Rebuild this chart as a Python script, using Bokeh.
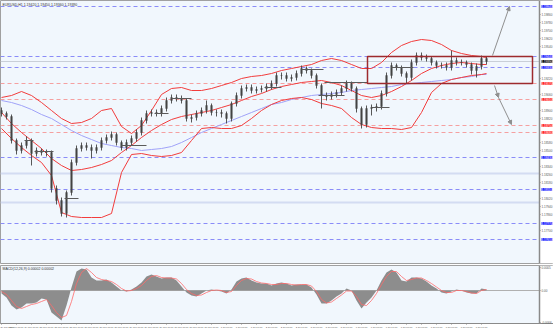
from bokeh.plotting import figure
from bokeh.models import (Range1d, FixedTicker, Label, Arrow, NormalHead, Span,
                          PrintfTickFormatter, ColumnDataSource, BoxAnnotation)
from bokeh.layouts import column
from bokeh.embed import file_html
from bokeh.resources import INLINE

# ---------------- data ----------------
title_text = "EURUSD,H1  1.19420 1.19450 1.19360 1.19390"
macd_title = "MACD(12,26,9) 0.00002 0.00002"

first_open = 1.1890
close = [1.1887, 1.1884, 1.1860, 1.1850, 1.1855, 1.1860, 1.1847, 1.1850, 1.1848, 1.1848,
         1.1812, 1.1800, 1.1787, 1.1808, 1.1838, 1.1852, 1.1855, 1.1853, 1.1850, 1.1853,
         1.1860, 1.1863, 1.1866, 1.1858, 1.1853, 1.1858, 1.1862, 1.1868, 1.1880, 1.1887,
         1.1888, 1.1887, 1.1892, 1.1900, 1.1903, 1.1902, 1.1900, 1.1882, 1.1883, 1.1887,
         1.1890, 1.1895, 1.1888, 1.1888, 1.1887, 1.1882, 1.1897, 1.1905, 1.1912, 1.1913,
         1.1910, 1.1911, 1.1912, 1.1914, 1.1917, 1.1925, 1.1925, 1.1922, 1.1923, 1.1927,
         1.1932, 1.1930, 1.1925, 1.1915, 1.1905, 1.1904, 1.1906, 1.1908, 1.1912, 1.1917,
         1.1912, 1.1892, 1.1876, 1.1892, 1.1893, 1.1894, 1.1907, 1.1925, 1.1935, 1.1933,
         1.1927, 1.1923, 1.1938, 1.1945, 1.1943, 1.1942, 1.1938, 1.1935, 1.1935, 1.1933,
         1.1940, 1.1938, 1.1938, 1.1936, 1.1930, 1.1934, 1.1942, 1.1939]
high = [1.1893, 1.1889, 1.1886, 1.1862, 1.1858, 1.1864, 1.1862, 1.1853, 1.1852, 1.1851,
        1.1850, 1.1815, 1.1803, 1.1810, 1.1841, 1.1855, 1.1858, 1.1858, 1.1856, 1.1856,
        1.1863, 1.1866, 1.1869, 1.1868, 1.1860, 1.1861, 1.1865, 1.1871, 1.1883, 1.1890,
        1.1891, 1.1891, 1.1895, 1.1903, 1.1906, 1.1906, 1.1905, 1.1902, 1.1886, 1.1890,
        1.1893, 1.1900, 1.1897, 1.1891, 1.1891, 1.1889, 1.1899, 1.1908, 1.1915, 1.1916,
        1.1916, 1.1914, 1.1915, 1.1917, 1.1920, 1.1928, 1.1928, 1.1928, 1.1926, 1.1930,
        1.1935, 1.1934, 1.1932, 1.1927, 1.1917, 1.1908, 1.1909, 1.1911, 1.1915, 1.1920,
        1.1919, 1.1914, 1.1894, 1.1895, 1.1896, 1.1897, 1.1910, 1.1928, 1.1938, 1.1937,
        1.1935, 1.1929, 1.1941, 1.1948, 1.1948, 1.1946, 1.1944, 1.1940, 1.1938, 1.1938,
        1.1950, 1.1943, 1.1941, 1.1940, 1.1938, 1.1937, 1.1945, 1.1944]
low = [1.1884, 1.1881, 1.1857, 1.1846, 1.1847, 1.1852, 1.1835, 1.1844, 1.1845, 1.1844,
       1.1808, 1.1796, 1.1784, 1.1783, 1.1805, 1.1835, 1.1849, 1.1850, 1.1842, 1.1847,
       1.1850, 1.1857, 1.1860, 1.1855, 1.1850, 1.1850, 1.1855, 1.1859, 1.1865, 1.1877,
       1.1884, 1.1884, 1.1884, 1.1889, 1.1897, 1.1899, 1.1897, 1.1879, 1.1878, 1.1880,
       1.1884, 1.1887, 1.1885, 1.1884, 1.1883, 1.1877, 1.1879, 1.1894, 1.1902, 1.1909,
       1.1907, 1.1907, 1.1908, 1.1909, 1.1911, 1.1914, 1.1921, 1.1919, 1.1919, 1.1920,
       1.1924, 1.1927, 1.1922, 1.1912, 1.1892, 1.1900, 1.1901, 1.1903, 1.1905, 1.1909,
       1.1909, 1.1888, 1.1872, 1.1873, 1.1885, 1.1889, 1.1891, 1.1904, 1.1922, 1.1930,
       1.1924, 1.1917, 1.1920, 1.1935, 1.1940, 1.1939, 1.1935, 1.1932, 1.1932, 1.1930,
       1.1930, 1.1935, 1.1935, 1.1933, 1.1926, 1.1923, 1.1931, 1.1936]

# Bollinger bands and moving average sampled every second bar (+ last bar)
band_bar = list(range(0, 97, 2)) + [97]
bb_upper = [1.1903, 1.1905, 1.1909, 1.1905, 1.1898, 1.1890, 1.1882, 1.1877, 1.1878, 1.1882,
            1.1890, 1.1892, 1.1874, 1.1867, 1.1875, 1.1890, 1.1906, 1.1912, 1.1913, 1.1910,
            1.1910, 1.1912, 1.1915, 1.1918, 1.1922, 1.1924, 1.1925, 1.1927, 1.1930, 1.1932,
            1.1934, 1.1936, 1.1940, 1.1942, 1.1940, 1.1936, 1.1932, 1.1932, 1.1938, 1.1948,
            1.1955, 1.1959, 1.1961, 1.1960, 1.1956, 1.1950, 1.1947, 1.1945, 1.1944, 1.1943]
bb_middle = [1.1888, 1.1877, 1.1868, 1.1860, 1.1852, 1.1842, 1.1835, 1.1830, 1.1831, 1.1833,
             1.1836, 1.1840, 1.1848, 1.1855, 1.1863, 1.1870, 1.1876, 1.1881, 1.1884, 1.1886,
             1.1888, 1.1890, 1.1893, 1.1896, 1.1900, 1.1904, 1.1907, 1.1911, 1.1914, 1.1916,
             1.1918, 1.1919, 1.1920, 1.1918, 1.1915, 1.1910, 1.1905, 1.1903, 1.1905, 1.1909,
             1.1914, 1.1920, 1.1927, 1.1932, 1.1935, 1.1937, 1.1938, 1.1937, 1.1936, 1.1936]
bb_lower = [1.1872, 1.1862, 1.1853, 1.1845, 1.1838, 1.1825, 1.1788, 1.1784, 1.1783, 1.1783,
            1.1783, 1.1787, 1.1828, 1.1846, 1.1847, 1.1845, 1.1844, 1.1845, 1.1848, 1.1860,
            1.1872, 1.1873, 1.1872, 1.1872, 1.1875, 1.1882, 1.1890, 1.1896, 1.1900, 1.1902,
            1.1903, 1.1901, 1.1897, 1.1895, 1.1892, 1.1883, 1.1876, 1.1873, 1.1872, 1.1872,
            1.1871, 1.1873, 1.1888, 1.1908, 1.1917, 1.1921, 1.1923, 1.1925, 1.1926, 1.1927]
ma_slow = [1.1900, 1.1898, 1.1895, 1.1891, 1.1886, 1.1882, 1.1876, 1.1870, 1.1865, 1.1861,
           1.1857, 1.1855, 1.1853, 1.1852, 1.1850, 1.1851, 1.1852, 1.1854, 1.1858, 1.1863,
           1.1868, 1.1872, 1.1876, 1.1880, 1.1884, 1.1888, 1.1892, 1.1896, 1.1898, 1.1901,
           1.1903, 1.1905, 1.1906, 1.1907, 1.1908, 1.1910, 1.1911, 1.1912, 1.1913, 1.1914,
           1.1916, 1.1917, 1.1918, 1.1919, 1.1920, 1.1921, 1.1923, 1.1924, 1.1926, 1.1926]

blue_levels = [1.1994, 1.1944, 1.1933, 1.1843, 1.1811, 1.1777, 1.1761]
red_levels = [1.1917, 1.1901, 1.1875, 1.1868]
band_levels = [1.1827, 1.1798]
bid_price = 1.1939

# short horizontal level marks: start bar, end bar, price
mark_x0 = [4.6, 6.6, 12.6, 24.0, 30.6, 34.0, 52.6, 60.0, 63.4, 64.6, 74.0, 78.0]
mark_x1 = [6.4, 10.4, 15.4, 29.0, 33.4, 38.0, 56.0, 64.4, 68.6, 73.2, 77.6, 82.4]
mark_px = [1.1860, 1.1849, 1.1802, 1.1855, 1.1887, 1.1902, 1.1913, 1.1931, 1.1905, 1.1918,
           1.1893, 1.1933]

# range box (bars / prices) and projection arrows
box_bars = [73.2, 106.2]
box_prices = [1.1917, 1.1944]
arrow_from_bar = [98.2, 98.6, 99.4]
arrow_from_px = [1.1945, 1.1915, 1.1903]
arrow_to_bar = [101.6, 99.4, 102.0]
arrow_to_px = [1.1994, 1.1903, 1.1876]

price_ticks = [1.1770, 1.1786, 1.1794, 1.1802, 1.1818, 1.1826, 1.1834, 1.1850, 1.1858,
               1.1882, 1.1890, 1.1906, 1.1922, 1.1954, 1.1962, 1.1970, 1.1978, 1.1986]

macd = [-0.00006, -0.00014, -0.00030, -0.00038, -0.00034, -0.00026, -0.00026, -0.00024, -0.00016, -0.00018,
        -0.00044, -0.00052, -0.00060, -0.00030, 0.00006, 0.00038, 0.00044, 0.00042, 0.00026, 0.00020,
        0.00020, 0.00022, 0.00016, 0.00008, 0.00000, -0.00002, 0.00002, 0.00008, 0.00016, 0.00028,
        0.00032, 0.00028, 0.00024, 0.00026, 0.00026, 0.00020, 0.00008, -0.00004, -0.00010, -0.00012,
        -0.00006, 0.00000, 0.00002, 0.00000, -0.00002, -0.00006, 0.00002, 0.00018, 0.00024, 0.00026,
        0.00020, 0.00016, 0.00014, 0.00014, 0.00010, 0.00014, 0.00016, 0.00014, 0.00010, 0.00012,
        0.00012, 0.00012, 0.00006, -0.00008, -0.00026, -0.00026, -0.00020, -0.00012, -0.00006, 0.00004,
        0.00000, -0.00020, -0.00036, -0.00024, -0.00014, 0.00000, 0.00020, 0.00036, 0.00042, 0.00036,
        0.00020, 0.00018, 0.00026, 0.00026, 0.00024, 0.00018, 0.00010, 0.00004, -0.00004, -0.00006,
        -0.00002, 0.00002, 0.00000, -0.00004, -0.00006, -0.00006, 0.00004, 0.00002]
signal = [-0.00002, -0.00008, -0.00020, -0.00032, -0.00036, -0.00032, -0.00028, -0.00026, -0.00022, -0.00018,
          -0.00030, -0.00044, -0.00054, -0.00050, -0.00022, 0.00014, 0.00036, 0.00044, 0.00036, 0.00026,
          0.00022, 0.00020, 0.00018, 0.00012, 0.00004, -0.00001, 0.00000, 0.00004, 0.00010, 0.00020,
          0.00028, 0.00030, 0.00026, 0.00025, 0.00025, 0.00023, 0.00014, 0.00002, -0.00006, -0.00010,
          -0.00009, -0.00004, 0.00000, 0.00001, 0.00000, -0.00004, -0.00002, 0.00010, 0.00020, 0.00024,
          0.00023, 0.00018, 0.00015, 0.00014, 0.00012, 0.00012, 0.00014, 0.00014, 0.00012, 0.00011,
          0.00012, 0.00012, 0.00009, -0.00002, -0.00018, -0.00025, -0.00023, -0.00016, -0.00009, -0.00001,
          -0.00001, -0.00012, -0.00028, -0.00030, -0.00020, -0.00006, 0.00012, 0.00028, 0.00038, 0.00038,
          0.00028, 0.00020, 0.00022, 0.00025, 0.00025, 0.00020, 0.00014, 0.00007, 0.00000, -0.00004,
          -0.00004, 0.00000, 0.00000, -0.00002, -0.00005, -0.00006, 0.00000, 0.00002]
macd_ticks = [0.00046, 0.0, -0.00064]

date_tick_bars = list(range(0, 97, 3))
date_labels = ["24 Jun 2021", "24 Jun 08:00", "24 Jun 16:00", "25 Jun 00:00", "25 Jun 08:00",
               "25 Jun 16:00", "28 Jun 00:00", "28 Jun 08:00", "28 Jun 16:00", "29 Jun 00:00",
               "29 Jun 08:00", "29 Jun 16:00", "30 Jun 00:00", "30 Jun 08:00", "30 Jun 16:00",
               "1 Jul 00:00", "1 Jul 08:00", "1 Jul 16:00", "2 Jul 00:00", "2 Jul 08:00",
               "2 Jul 16:00", "5 Jul 00:00", "5 Jul 08:00", "5 Jul 16:00", "6 Jul 00:00",
               "6 Jul 08:00", "6 Jul 16:00", "7 Jul 00:00", "7 Jul 08:00", "7 Jul 16:00",
               "8 Jul 00:00", "8 Jul 08:00", "8 Jul 16:00"]

# ---------------- style ----------------
BG = "#f1f7fd"
FONT = "Liberation Sans"
FS = "3.5px"
FS_AX = "3px"
FS_DATE = "2.4px"
CANDLE = "#444444"
RED = "#f23c3c"
BLUE_MA = "#a0a2f8"
BLUE_DASH = "#8a8cf8"
RED_DASH = "#f5a0a0"
AXIS = "#8a8a8a"
AXIS_AT = 107.6          # bar position of the price scale line
XR = Range1d(-0.2, 110.4)


def style_axis(ax, size):
    ax.major_label_text_font_size = size
    ax.major_label_text_font = FONT
    ax.major_label_text_color = "#555555"
    ax.major_tick_out = 1
    ax.major_tick_in = 0
    ax.minor_tick_line_color = None
    ax.major_label_standoff = 1
    ax.axis_line_color = AXIS
    ax.axis_line_width = 1.5
    ax.major_tick_line_color = AXIS


p = figure(width=553, height=264, output_backend="svg", toolbar_location=None,
           x_range=XR, y_range=Range1d(1.1737, 1.2000),
           x_axis_location=None, y_axis_location="right",
           min_border_left=0, min_border_right=0, min_border_top=0, min_border_bottom=1,
           background_fill_color=BG, border_fill_color="white",
           outline_line_color="#a0a0a0")
p.xgrid.grid_line_color = None
p.ygrid.grid_line_color = None

for lv in blue_levels:
    p.add_layout(Span(location=lv, dimension="width", line_color=BLUE_DASH,
                      line_dash="4 3", line_width=1, level="underlay"))
for lv in red_levels:
    p.add_layout(Span(location=lv, dimension="width", line_color=RED_DASH,
                      line_dash="4 3", line_width=1, level="underlay"))
for lv in band_levels:
    p.add_layout(Span(location=lv, dimension="width", line_color="#d3dcf2",
                      line_width=2, level="underlay"))
p.add_layout(Span(location=bid_price, dimension="width", line_color="#c9cfd8",
                  line_width=1, level="underlay"))
# white price-scale strip
p.add_layout(BoxAnnotation(left=AXIS_AT, fill_color="white", fill_alpha=1.0,
                           line_alpha=0, level="underlay"))

p.line(band_bar, ma_slow, line_color=BLUE_MA, line_width=1)
p.line(band_bar, bb_upper, line_color=RED, line_width=1)
p.line(band_bar, bb_middle, line_color=RED, line_width=1)
p.line(band_bar, bb_lower, line_color=RED, line_width=1)

bars = list(range(len(close)))
opens = [first_open] + close[:-1]
src = ColumnDataSource(dict(x=bars, h=high, l=low,
                            top=[max(a, b) for a, b in zip(opens, close)],
                            bot=[min(a, b) for a, b in zip(opens, close)]))
p.segment("x", "h", "x", "l", source=src, line_color=CANDLE, line_width=0.9)
p.vbar(x="x", width=0.3, top="top", bottom="bot", source=src,
       fill_color=CANDLE, line_color=CANDLE, line_width=0.5)

p.segment(mark_x0, mark_px, mark_x1, mark_px, line_color="#5a5a5a", line_width=1)

p.add_layout(BoxAnnotation(left=box_bars[0], right=box_bars[1], bottom=box_prices[0],
                           top=box_prices[1], fill_alpha=0, line_color="#9e2a2e",
                           line_alpha=1.0, line_width=1.5))
for xs, ys, xe, ye in zip(arrow_from_bar, arrow_from_px, arrow_to_bar, arrow_to_px):
    p.add_layout(Arrow(end=NormalHead(size=4, fill_color="#8f8f8f", line_color="#8f8f8f"),
                       x_start=xs, y_start=ys, x_end=xe, y_end=ye,
                       line_color="#8f8f8f", line_width=1))

ya = p.yaxis[0]
ya.fixed_location = AXIS_AT
ya.ticker = FixedTicker(ticks=price_ticks)
ya.formatter = PrintfTickFormatter(format="%.5f")
style_axis(ya, FS_AX)

p.add_layout(Label(x=0.2, y=1.1996, text=title_text, text_font=FONT, text_font_size=FS,
                   text_color="#333333", text_baseline="middle"))

for lv, col in ([(v, "#2b2bff") for v in blue_levels] + [(v, "#ff2b2b") for v in red_levels]
                + [(bid_price, "#111111")]):
    p.add_layout(Label(x=AXIS_AT, y=lv, text="%.5f" % lv, text_font=FONT,
                       text_font_size=FS_AX, text_color="white", text_baseline="middle",
                       x_offset=2, background_fill_color=col))

m = figure(width=553, height=67, output_backend="svg", toolbar_location=None,
           x_range=XR, y_range=Range1d(-0.00066, 0.00050), y_axis_location="right",
           min_border_left=0, min_border_right=0, min_border_top=1, min_border_bottom=8,
           background_fill_color=BG, border_fill_color="white",
           outline_line_color="#a0a0a0")
m.xgrid.grid_line_color = None
m.ygrid.grid_line_color = None
m.add_layout(Span(location=0, dimension="width", line_color="#b0b0b0", line_width=1,
                  level="underlay"))
m.add_layout(BoxAnnotation(left=AXIS_AT, fill_color="white", fill_alpha=1.0,
                           line_alpha=0, level="underlay"))
m.varea(x=bars, y1=0, y2=macd, fill_color="#8d8d8d")
m.line(bars, signal, line_color="#ff6a6a", line_width=0.8)
m.add_layout(Label(x=0.2, y=0.00044, text=macd_title, text_font=FONT, text_font_size=FS,
                   text_color="#333333", text_baseline="middle"))

my = m.yaxis[0]
my.fixed_location = AXIS_AT
my.ticker = FixedTicker(ticks=macd_ticks)
my.formatter = PrintfTickFormatter(format="%.4f")
my.major_label_overrides = {0: "0.00"}
mx = m.xaxis[0]
mx.ticker = FixedTicker(ticks=date_tick_bars)
mx.major_label_overrides = {b: s for b, s in zip(date_tick_bars, date_labels)}
mx.major_label_text_align = "left"
style_axis(my, FS_AX)
style_axis(mx, FS_DATE)
mx.axis_line_width = 1

layout = column(p, m, spacing=0)
open("out.html", "w").write(file_html(layout, INLINE))
